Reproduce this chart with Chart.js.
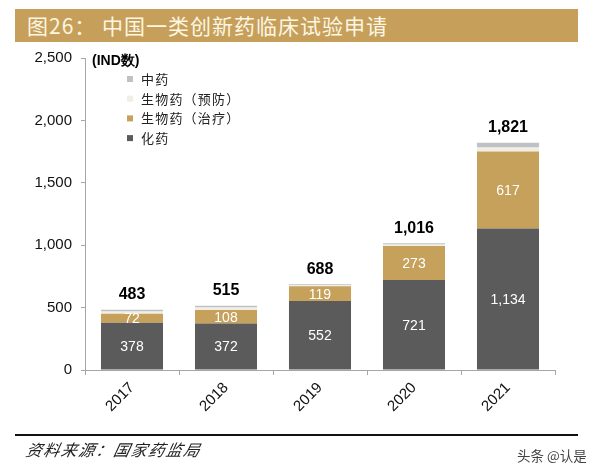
<!DOCTYPE html>
<html>
<head>
<meta charset="utf-8">
<script src="https://cdn.jsdelivr.net/npm/chart.js@4/dist/chart.umd.min.js"></script>
<style>
  html,body{margin:0;padding:0;background:#fff;}
  #wrap{position:relative;width:600px;height:468px;overflow:hidden;background:#fff;}
  #cv{position:absolute;left:0;top:0;}
  #title{position:absolute;left:15px;top:9px;width:563px;height:33px;background:#c6a05a;
    color:#fdf6e3;font-family:"Noto Sans CJK SC",sans-serif;font-size:21px;line-height:33px;letter-spacing:1px;
    box-sizing:border-box;padding-left:12px;white-space:nowrap;}
  #rule{position:absolute;left:15px;top:434px;width:563px;height:2px;background:#111;}
  #src{position:absolute;left:24px;top:437px;font-family:"Noto Sans CJK SC",sans-serif;font-size:16px;
    font-style:italic;color:#222;letter-spacing:1.5px;transform:skewX(-12deg);transform-origin:left bottom;white-space:nowrap;}
  #wm{position:absolute;left:517px;top:445px;font-family:"Noto Sans CJK SC",sans-serif;font-size:13.5px;color:#444;white-space:nowrap;}
</style>
</head>
<body>
<div id="wrap">
  <canvas id="cv" width="600" height="468"></canvas>
  <div id="title">图26：&nbsp;中国一类创新药临床试验申请</div>
  <div id="rule"></div>
  <div id="src">资料来源：国家药监局</div>
  <div id="wm">头条 @认是</div>
</div>
<script>
const years = ['2017','2018','2019','2020','2021'];
const chemDrug = [378, 372, 552, 721, 1134];
const bioTherapy = [72, 108, 119, 273, 617];
const bioPrevent = [18, 20, 9, 12, 32];
const tcm = [15, 15, 8, 10, 38];
const totals = [483, 515, 688, 1016, 1821];
const yTicks = [0, 500, 1000, 1500, 2000, 2500];
const unitLabel = '(IND数)';

const fmt = v => v.toLocaleString('en-US');

const labelPlugin = {
  id: 'valueLabels',
  afterDatasetsDraw(chart) {
    const ctx = chart.ctx;
    ctx.save();
    ctx.textAlign = 'center';
    ctx.textBaseline = 'middle';
    [0, 1].forEach(di => {
      const meta = chart.getDatasetMeta(di);
      meta.data.forEach((bar, i) => {
        const v = chart.data.datasets[di].data[i];
        ctx.font = '14px "Liberation Sans", Arial, sans-serif';
        ctx.fillStyle = '#ffffff';
        ctx.fillText(fmt(v), bar.x, (bar.y + bar.base) / 2 + 1);
      });
    });
    const ys = chart.scales.y;
    chart.getDatasetMeta(0).data.forEach((bar, i) => {
      ctx.font = 'bold 16px "Liberation Sans", Arial, sans-serif';
      ctx.fillStyle = '#000';
      ctx.fillText(fmt(totals[i]), bar.x, ys.getPixelForValue(totals[i]) - 15);
    });
    ctx.restore();
  },
  afterDraw(chart) {
    const ctx = chart.ctx;
    const ca = chart.chartArea;
    ctx.save();
    ctx.textBaseline = 'middle';
    ctx.textAlign = 'left';
    ctx.font = 'bold 14px "Liberation Sans", Arial, sans-serif';
    ctx.fillStyle = '#000';
    ctx.fillText(unitLabel, ca.left + 7, ca.top + 3);
    const ds = chart.data.datasets.slice().reverse();
    ds.forEach((d, k) => {
      const y = ca.top + 21 + k * 19.7;
      ctx.fillStyle = d.backgroundColor;
      ctx.fillRect(ca.left + 42, y - 3, 6, 6);
      ctx.fillStyle = '#222';
      ctx.font = '13px "Noto Sans CJK SC", sans-serif';
      ctx.letterSpacing = '1.2px';
      ctx.fillText(d.label, ca.left + 56, y);
      ctx.letterSpacing = '0px';
    });
    ctx.restore();
  }
};

new Chart(document.getElementById('cv'), {
  type: 'bar',
  data: {
    labels: years,
    datasets: [
      { label: '化药', data: chemDrug, backgroundColor: '#5b5b5b' },
      { label: '生物药（治疗）', data: bioTherapy, backgroundColor: '#c6a15b' },
      { label: '生物药（预防）', data: bioPrevent, backgroundColor: '#f3eee3' },
      { label: '中药', data: tcm, backgroundColor: '#bec2c6' }
    ]
  },
  options: {
    responsive: false,
    animation: false,
    devicePixelRatio: 1,
    layout: { padding: { top: 58, left: 0, right: 45, bottom: 38 } },
    plugins: { legend: { display: false }, tooltip: { enabled: false } },
    datasets: { bar: { barPercentage: 0.66, categoryPercentage: 1.0, borderWidth: 0 } },
    scales: {
      x: {
        stacked: true,
        grid: { display: true, drawOnChartArea: false, drawTicks: true, tickLength: 5, color: '#a6a6a6', offset: true },
        border: { display: true, color: '#a6a6a6', width: 1 },
        ticks: {
          minRotation: 45, maxRotation: 45, padding: 4,
          color: '#111', font: { family: '"Liberation Sans", Arial, sans-serif', size: 15 }
        },
        afterFit(scale) { scale.height = 60; }
      },
      y: {
        stacked: true,
        min: 0, max: 2500,
        afterBuildTicks(scale) { scale.ticks = yTicks.map(v => ({ value: v })); },
        grid: { display: true, drawOnChartArea: false, drawTicks: true, tickLength: 4, color: '#a6a6a6' },
        border: { display: true, color: '#a6a6a6', width: 1 },
        ticks: {
          padding: 9, color: '#111',
          font: { family: '"Liberation Sans", Arial, sans-serif', size: 15 },
          callback: v => fmt(v)
        },
        afterFit(scale) { scale.width = 85; }
      }
    }
  },
  plugins: [labelPlugin]
});
</script>
</body>
</html>
